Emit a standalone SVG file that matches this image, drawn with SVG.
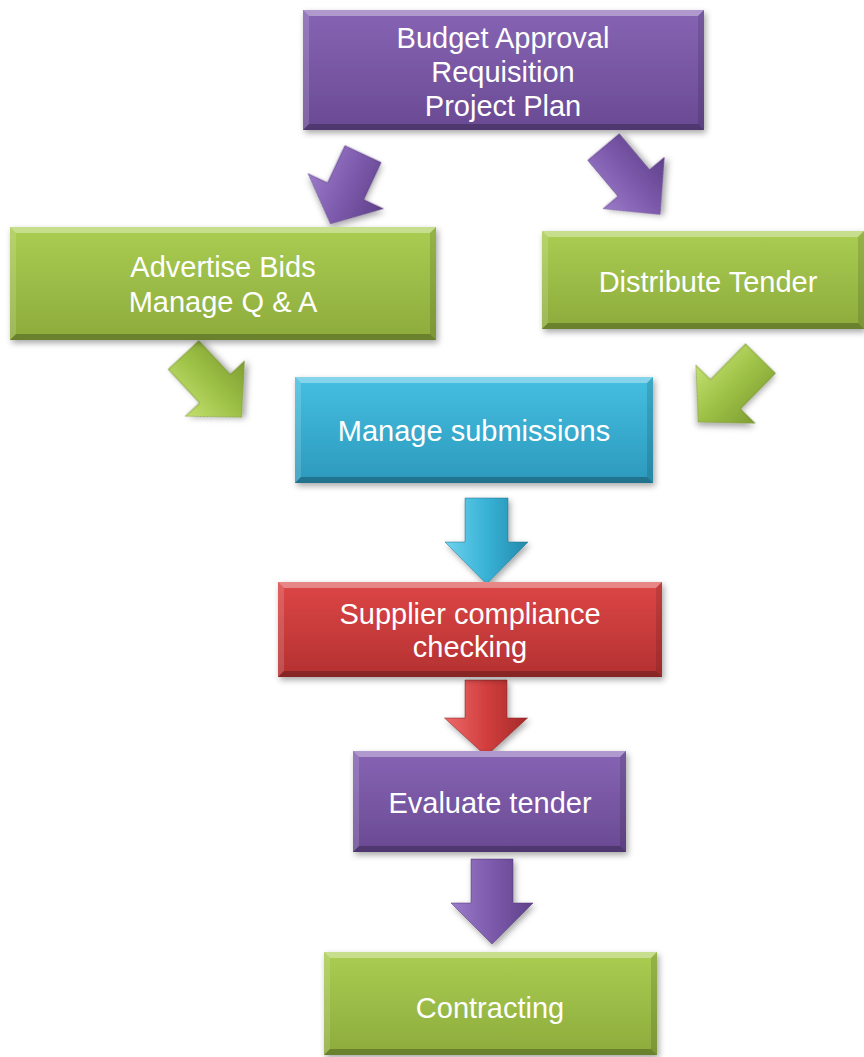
<svg xmlns="http://www.w3.org/2000/svg" width="864" height="1057" viewBox="0 0 864 1057">
  <defs>
    <filter id="shadow" x="-10%" y="-10%" width="120%" height="130%">
      <feDropShadow dx="2" dy="3" stdDeviation="3" flood-color="#000" flood-opacity="0.35"/>
    </filter>
    <linearGradient id="gPurple" x1="0" y1="0" x2="0" y2="1">
      <stop offset="0" stop-color="#8664b4"/>
      <stop offset="1" stop-color="#6a4a93"/>
    </linearGradient>
    <linearGradient id="gGreen" x1="0" y1="0" x2="0" y2="1">
      <stop offset="0" stop-color="#aacd52"/>
      <stop offset="1" stop-color="#8dab3c"/>
    </linearGradient>
    <linearGradient id="gCyan" x1="0" y1="0" x2="0" y2="1">
      <stop offset="0" stop-color="#45bfe1"/>
      <stop offset="1" stop-color="#2c99bc"/>
    </linearGradient>
    <linearGradient id="gRed" x1="0" y1="0" x2="0" y2="1">
      <stop offset="0" stop-color="#dd4646"/>
      <stop offset="1" stop-color="#b43131"/>
    </linearGradient>
    <linearGradient id="aPurple" x1="0" y1="0" x2="1" y2="0">
      <stop offset="0" stop-color="#9b7bc9"/>
      <stop offset="0.5" stop-color="#7d5aac"/>
      <stop offset="1" stop-color="#5f418a"/>
    </linearGradient>
    <linearGradient id="aGreen" x1="0" y1="0" x2="1" y2="0">
      <stop offset="0" stop-color="#c3e070"/>
      <stop offset="0.5" stop-color="#9dc146"/>
      <stop offset="1" stop-color="#7f9e33"/>
    </linearGradient>
    <linearGradient id="aCyan" x1="0" y1="0" x2="1" y2="0">
      <stop offset="0" stop-color="#6fd2ee"/>
      <stop offset="0.5" stop-color="#38b2d6"/>
      <stop offset="1" stop-color="#238aab"/>
    </linearGradient>
    <linearGradient id="aRed" x1="0" y1="0" x2="1" y2="0">
      <stop offset="0" stop-color="#ec6a6a"/>
      <stop offset="0.5" stop-color="#d23e3e"/>
      <stop offset="1" stop-color="#a52a2a"/>
    </linearGradient>
  </defs>
  <style>
    .lbl { font-family: "Liberation Sans", Arial, sans-serif; font-size: 29px; fill: #ffffff; text-anchor: middle; }
    .bt { fill: #ffffff; fill-opacity: 0.35; }
    .bl { fill: #ffffff; fill-opacity: 0.15; }
    .br { fill: #000000; fill-opacity: 0.12; }
    .bb { fill: #000000; fill-opacity: 0.25; }
    .edge { fill: none; stroke: #000; stroke-opacity: 0.15; stroke-width: 1; }
    .arrow { filter: url(#shadow); stroke-width: 1; stroke-opacity: 0.5; }
  </style>

  <g id="connectors">
    <path class="arrow" transform="translate(363,154) rotate(25)" fill="url(#aPurple)" stroke="#4e3475" d="M-20,0 L20,0 L20,41 L41.5,41 L0,77 L-41.5,41 L-20,41 Z"/>
    <path class="arrow" transform="translate(603.5,147) rotate(-40)" fill="url(#aPurple)" stroke="#4e3475" d="M-20.5,0 L20.5,0 L20.5,47 L40,47 L0,88 L-40,47 L-20.5,47 Z"/>
    <path class="arrow" transform="translate(183.5,355) rotate(-43)" fill="url(#aGreen)" stroke="#5f7a22" d="M-21,0 L21,0 L21,46 L40.5,46 L0,85 L-40.5,46 L-21,46 Z"/>
    <path class="arrow" transform="translate(760.5,358.5) rotate(44.5)" fill="url(#aGreen)" stroke="#5f7a22" d="M-21,0 L21,0 L21,50 L41.5,50 L0,89 L-41.5,50 L-21,50 Z"/>
    <path class="arrow" transform="translate(486.5,498)" fill="url(#aCyan)" stroke="#1b6f8a" d="M-21.5,0 L21.5,0 L21.5,44 L41.5,44 L0,86 L-41.5,44 L-21.5,44 Z"/>
    <path class="arrow" transform="translate(486,680)" fill="url(#aRed)" stroke="#7f1e1e" d="M-21,0 L21,0 L21,38 L41.5,38 L0,76 L-41.5,38 L-21,38 Z"/>
    <path class="arrow" transform="translate(492,859)" fill="url(#aPurple)" stroke="#4e3475" d="M-21,0 L21,0 L21,44 L41,44 L0,85 L-41,44 L-21,44 Z"/>
  </g>

  <g id="node-budget">
    <rect x="303" y="10" width="401" height="120" fill="url(#gPurple)" filter="url(#shadow)"/>
    <polygon class="bt" points="303,10 704,10 698,16 309,16"/>
    <polygon class="bl" points="303,10 309,16 309,124 303,130"/>
    <polygon class="br" points="704,10 704,130 698,124 698,16"/>
    <polygon class="bb" points="303,130 309,124 698,124 704,130"/>
    <text class="lbl" x="503" y="48">Budget Approval</text>
    <text class="lbl" x="503" y="82">Requisition</text>
    <text class="lbl" x="503" y="116">Project Plan</text>
  </g>

  <g id="node-advertise">
    <rect x="10" y="227" width="426" height="113" fill="url(#gGreen)" filter="url(#shadow)"/>
    <polygon class="bt" points="10,227 436,227 430,233 16,233"/>
    <polygon class="bl" points="10,227 16,233 16,334 10,340"/>
    <polygon class="br" points="436,227 436,340 430,334 430,233"/>
    <polygon class="bb" points="10,340 16,334 430,334 436,340"/>
    <text class="lbl" x="223" y="277">Advertise Bids</text>
    <text class="lbl" x="223" y="312">Manage Q &amp; A</text>
  </g>

  <g id="node-distribute">
    <rect x="542" y="231" width="322" height="98" fill="url(#gGreen)" filter="url(#shadow)"/>
    <polygon class="bt" points="542,231 864,231 858,237 548,237"/>
    <polygon class="bl" points="542,231 548,237 548,323 542,329"/>
    <polygon class="br" points="864,231 864,329 858,323 858,237"/>
    <polygon class="bb" points="542,329 548,323 858,323 864,329"/>
    <text class="lbl" x="708" y="292">Distribute Tender</text>
  </g>

  <g id="node-submissions">
    <rect x="295" y="377" width="358" height="106" fill="url(#gCyan)" filter="url(#shadow)"/>
    <polygon class="bt" points="295,377 653,377 647,383 301,383"/>
    <polygon class="bl" points="295,377 301,383 301,477 295,483"/>
    <polygon class="br" points="653,377 653,483 647,477 647,383"/>
    <polygon class="bb" points="295,483 301,477 647,477 653,483"/>
    <text class="lbl" x="474" y="441">Manage submissions</text>
  </g>

  <g id="node-compliance">
    <rect x="278" y="582" width="384" height="95" fill="url(#gRed)" filter="url(#shadow)"/>
    <polygon class="bt" points="278,582 662,582 656,588 284,588"/>
    <polygon class="bl" points="278,582 284,588 284,671 278,677"/>
    <polygon class="br" points="662,582 662,677 656,671 656,588"/>
    <polygon class="bb" points="278,677 284,671 656,671 662,677"/>
    <text class="lbl" x="470" y="624">Supplier compliance</text>
    <text class="lbl" x="470" y="657">checking</text>
  </g>

  <g id="node-evaluate">
    <rect x="353" y="751" width="273" height="101" fill="url(#gPurple)" filter="url(#shadow)"/>
    <polygon class="bt" points="353,751 626,751 620,757 359,757"/>
    <polygon class="bl" points="353,751 359,757 359,846 353,852"/>
    <polygon class="br" points="626,751 626,852 620,846 620,757"/>
    <polygon class="bb" points="353,852 359,846 620,846 626,852"/>
    <text class="lbl" x="490" y="813">Evaluate tender</text>
  </g>

  <g id="node-contracting">
    <rect x="324" y="952" width="333" height="103" fill="url(#gGreen)" filter="url(#shadow)"/>
    <polygon class="bt" points="324,952 657,952 651,958 330,958"/>
    <polygon class="bl" points="324,952 330,958 330,1049 324,1055"/>
    <polygon class="br" points="657,952 657,1055 651,1049 651,958"/>
    <polygon class="bb" points="324,1055 330,1049 651,1049 657,1055"/>
    <text class="lbl" x="490" y="1018">Contracting</text>
  </g>
</svg>
